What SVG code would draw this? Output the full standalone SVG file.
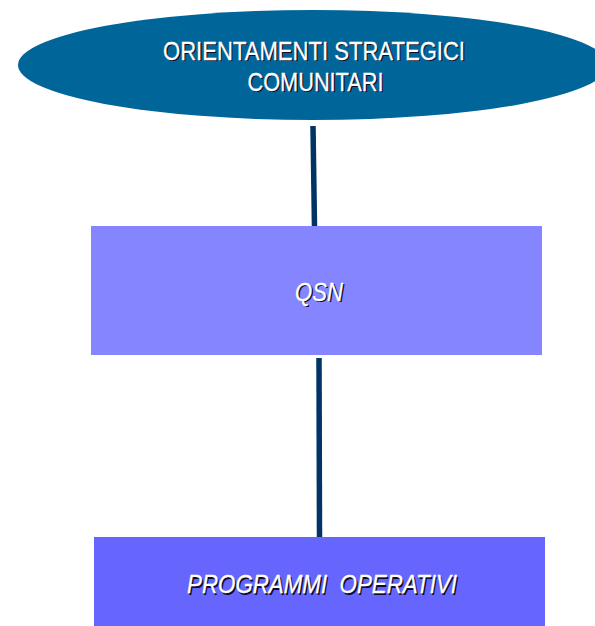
<svg xmlns="http://www.w3.org/2000/svg" width="595" height="626" viewBox="0 0 595 626">
<style>
.t{font-family:"Liberation Sans",Arial,sans-serif;font-size:25.5px;text-anchor:middle}
.sh{fill:#0d0d26}
.fg{fill:#ffffff;stroke:#ffffff;stroke-width:0.3}
.it{font-style:italic}
.conn{stroke:#003366;stroke-width:5.5;fill:none}
</style>
<rect width="595" height="626" fill="#ffffff"/>
<g id="connectors">
<line class="conn" x1="313" y1="126" x2="314.5" y2="228"/>
<line class="conn" x1="319" y1="358" x2="319.5" y2="538"/>
</g>
<g id="node-orientamenti">
<ellipse cx="313" cy="65" rx="295" ry="55" fill="#006699"/>
<text class="t sh" x="315.4" y="61.2" textLength="302" lengthAdjust="spacingAndGlyphs">ORIENTAMENTI STRATEGICI</text>
<text class="t fg" x="314" y="60" textLength="302" lengthAdjust="spacingAndGlyphs">ORIENTAMENTI STRATEGICI</text>
<text class="t sh" x="316.9" y="92" textLength="136" lengthAdjust="spacingAndGlyphs">COMUNITARI</text>
<text class="t fg" x="315.5" y="90.8" textLength="136" lengthAdjust="spacingAndGlyphs">COMUNITARI</text>
</g>
<g id="node-qsn">
<rect x="91" y="226" width="451" height="129" fill="#8585ff"/>
<text class="t it sh" x="320.4" y="302.2" textLength="48" lengthAdjust="spacingAndGlyphs">QSN</text>
<text class="t it fg" x="319" y="301" textLength="48" lengthAdjust="spacingAndGlyphs">QSN</text>
</g>
<g id="node-programmi">
<rect x="94" y="537" width="451" height="89" fill="#6666ff"/>
<text class="t it sh" x="323.4" y="594.5" textLength="270" lengthAdjust="spacingAndGlyphs" xml:space="preserve">PROGRAMMI  OPERATIVI</text>
<text class="t it fg" x="322" y="593.3" textLength="270" lengthAdjust="spacingAndGlyphs" xml:space="preserve">PROGRAMMI  OPERATIVI</text>
</g>
</svg>
